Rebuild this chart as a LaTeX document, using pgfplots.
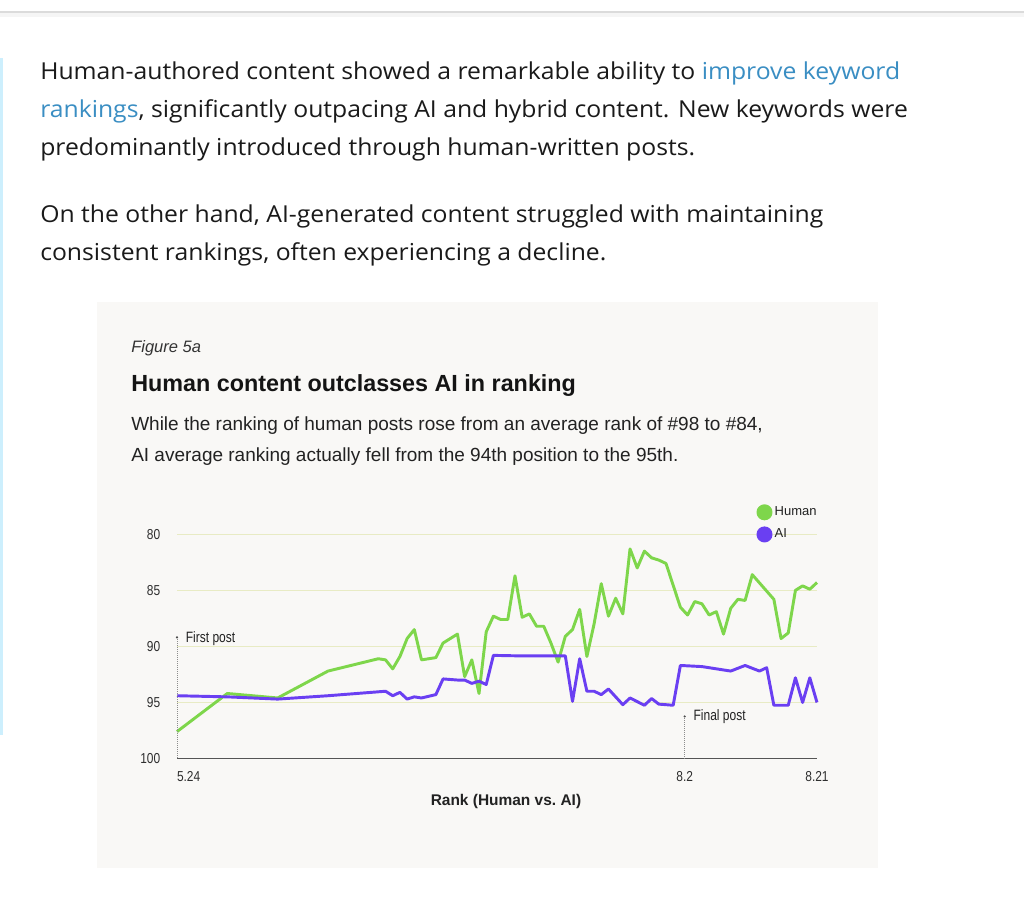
\documentclass[border=0pt]{standalone}
\usepackage{pgfplots}
\pgfplotsset{compat=1.18}
\usepackage{fontspec}
\setmainfont{Liberation Sans}
\newfontfamily\parafont[FakeStretch=1.06]{Open Sans}
\newfontfamily\narrowfont[FakeStretch=0.8]{Liberation Sans}
\newfontfamily\tickfont[FakeStretch=0.83]{Liberation Sans}
\definecolor{bodytext}{HTML}{1A1A1A}
\definecolor{linkblue}{HTML}{3A8EC3}
\definecolor{barblue}{HTML}{CDEFFD}
\definecolor{panel}{HTML}{F9F8F6}
\definecolor{gridcol}{HTML}{E8EBC4}
\definecolor{axisgray}{HTML}{555555}
\definecolor{humangreen}{HTML}{7ED64B}
\definecolor{aipurple}{HTML}{6A3FF2}
\definecolor{charttext}{HTML}{222222}

\begin{document}
\begin{tikzpicture}
% page furniture, in screen pixels (y down)
\begin{scope}[x=0.75pt,y=-0.75pt]
  \fill[white] (0,0) rectangle (1024,898);
  \fill[black!14] (0,11.5) rectangle (1024,13);
  \fill[black!4] (0,13) rectangle (1024,17);
  \fill[barblue] (0,58) rectangle (2.5,735);
  \fill[panel] (97,302) rectangle (878,868);
  \begin{scope}[every node/.style={anchor=base west, inner sep=0pt, text=bodytext,
      font=\parafont\fontsize{17.5}{21}\selectfont}]
    \node at (40,80) {Human-authored content showed a remarkable ability to \textcolor{linkblue}{improve keyword}};
    \node at (40,118) {\textcolor{linkblue}{rankings}, significantly outpacing AI and hybrid content. New keywords were};
    \node at (40,156) {predominantly introduced through human-written posts.};
    \node at (40,223) {On the other hand, AI-generated content struggled with maintaining};
    \node at (40,261) {consistent rankings, often experiencing a decline.};
  \end{scope}
  \begin{scope}[every node/.style={anchor=base west, inner sep=0pt, text=charttext}]
    \node[font=\itshape\fontsize{12.4}{14}\selectfont, text=black!80] at (131,353) {Figure 5a};
    \node[font=\bfseries\fontsize{17.5}{20}\selectfont, text=black!92] at (131,392) {Human content outclasses AI in ranking};
    \node[font=\fontsize{14.25}{16}\selectfont] at (131,431) {While the ranking of human posts rose from an average rank of \#98 to \#84,};
    \node[font=\fontsize{14.25}{16}\selectfont] at (131,461) {AI average ranking actually fell from the 94th position to the 95th.};
  \end{scope}
\end{scope}

\begin{axis}[
    at={(132.75pt,-568.875pt)}, anchor=south west,
    scale only axis, width=480pt, height=168.15pt,
    xmin=0, xmax=89, ymin=80, ymax=100, y dir=reverse,
    clip=false,
    axis line style={draw=none},
    major tick length=0pt,
    ytick={80,85,90,95,100},
    yticklabels={80,85,90,95,100},
    ymajorgrids, grid style={gridcol, line width=0.8pt},
    yticklabel style={font=\tickfont\fontsize{10.8}{12}\selectfont, text=black!82, xshift=-9pt},
    xtick={0,70.6,89},
    xticklabels={\makebox[0pt][l]{5.24},8.2,8.21},
    xticklabel style={font=\tickfont\fontsize{10.8}{12}\selectfont, text=black!82, yshift=-6.5pt},
    xlabel={Rank (Human vs.\ AI)},
    xlabel style={at={(axis description cs:0.514,0)}, anchor=center, yshift=-32.6pt,
      font=\bfseries\fontsize{11.6}{13}\selectfont, text=charttext},
    legend image code/.code={\fill[#1] (0pt,0pt) circle (4.9pt);},
    legend cell align=left,
    legend style={draw=none, fill=none, inner sep=0pt, row sep=4.6pt,
      at={(axis cs:80.55,77.3)}, anchor=north west,
      nodes={inner sep=1.6pt, font=\fontsize{9.75}{11}\selectfont, text=charttext}},
  ]
  \draw[axisgray, line width=1.3pt] (axis cs:0,100) -- (axis cs:89,100);
  \addplot[humangreen, line width=2.2pt, line join=round] coordinates {
    (0,97.6) (7,94.2) (14,94.6) (21,92.2) (28,91.1) (29,91.2) (30,92.0) (31,90.9)
    (32,89.3) (33,88.5) (34,91.2) (36,91.0) (37,89.7) (39,88.9) (40,92.7) (41,91.2)
    (42,94.2) (43,88.7) (44,87.3) (45,87.6) (46,87.6) (47,83.7) (48,87.4) (49,87.1)
    (50,88.2) (51,88.2) (52,89.7) (53,91.4) (54,89.1) (55,88.5) (56,86.7) (57,90.9)
    (58,88.0) (59,84.4) (60,87.3) (61,85.7) (62,87.1) (63,81.3) (64,83.0) (65,81.5)
    (66,82.1) (67,82.3) (68,82.6) (70,86.5) (71,87.2) (72,86.0) (73,86.2) (74,87.2)
    (75,86.9) (76,88.9) (77,86.6) (78,85.8) (79,85.9) (80,83.6) (83,85.8) (84,89.3)
    (85,88.8) (86,85.0) (87,84.6) (88,84.9) (89,84.3)};
  \addlegendentry{Human}
  \addplot[aipurple, line width=2.2pt, line join=round] coordinates {
    (0,94.4) (7,94.5) (14,94.7) (21,94.4) (29,94.0) (30,94.4) (31,94.1) (32,94.7)
    (33,94.5) (34,94.6) (36,94.3) (37,92.9) (39,93.0) (40,93.0) (41,93.3) (42,93.1)
    (43,93.4) (44,90.8) (48,90.85) (54,90.85) (55,94.9) (56,91.1) (57,94.0) (58,94.0)
    (59,94.3) (60,93.8) (62,95.2) (63,94.6) (65,95.25) (66,94.65) (67,95.15) (69,95.25)
    (70,91.7) (73,91.8) (77,92.2) (79,91.7) (81,92.2) (82,91.9) (83,95.25) (85,95.25)
    (86,92.8) (87,95.0) (88,92.8) (89,95.0)};
  \addlegendentry{AI}
  % annotations
  \draw[black!45, densely dotted, line width=0.5pt] (axis cs:0,89.2) -- (axis cs:0,100);
  \fill[black!70] (axis cs:0,89.2) circle (0.9pt);
  \node[anchor=west, inner sep=0pt, font=\narrowfont\fontsize{11.25}{13}\selectfont, text=charttext]
    at (axis cs:1.2,89.3) {First post};
  \draw[black!45, densely dotted, line width=0.5pt] (axis cs:70.6,96.25) -- (axis cs:70.6,100);
  \fill[black!70] (axis cs:70.6,96.25) circle (0.9pt);
  \node[anchor=west, inner sep=0pt, font=\narrowfont\fontsize{11.25}{13}\selectfont, text=charttext]
    at (axis cs:71.8,96.25) {Final post};
\end{axis}
\end{tikzpicture}
\end{document}
